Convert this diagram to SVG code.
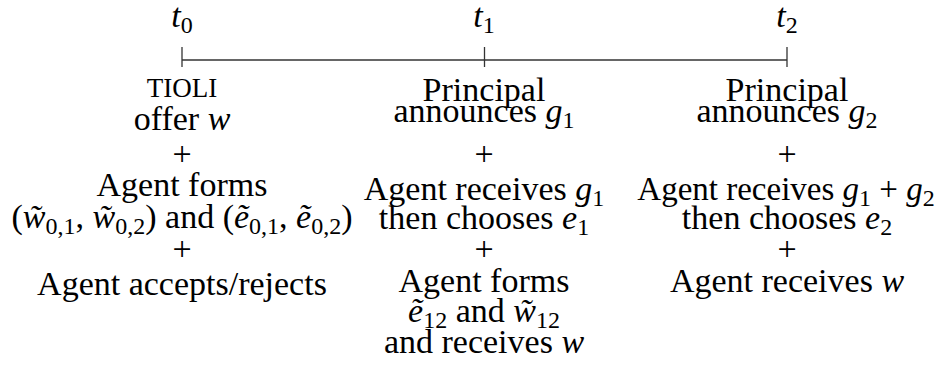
<svg xmlns="http://www.w3.org/2000/svg" width="936" height="365" viewBox="0 0 936 365">
<style>
.t { font-family: "Liberation Serif", "DejaVu Serif", serif; font-size: 34px; fill: #000; text-anchor: middle; }
.m { font-style: italic; }
.sub { font-size: 24px; font-style: normal; }
.sc { font-size: 27px; }
.nar { font-size: 33px; }
.tl { stroke: #333; stroke-width: 1.3; fill: none; }
</style>
<rect width="936" height="365" fill="#fff"/>
<g id="connectors">
  <line class="tl" x1="182" y1="60" x2="787" y2="60"/>
  <line class="tl" x1="182" y1="47" x2="182" y2="67"/>
  <line class="tl" x1="484.5" y1="47" x2="484.5" y2="67"/>
  <line class="tl" x1="787" y1="47" x2="787" y2="67"/>
</g>
<g id="t0">
  <text class="t" x="182" y="27"><tspan class="m">t</tspan><tspan class="sub" dy="6">0</tspan></text>
  <text class="t sc" x="182" y="97">TIOLI</text>
  <text class="t" x="182" y="130">offer <tspan class="m">w</tspan></text>
  <text class="t" x="182" y="165">+</text>
  <text class="t" x="182" y="196">Agent forms</text>
  <text class="t" x="182" y="228">(<tspan class="m">w̃</tspan><tspan class="sub" dy="6">0,1</tspan><tspan dy="-6">, </tspan><tspan class="m">w̃</tspan><tspan class="sub" dy="6">0,2</tspan><tspan dy="-6">) and (</tspan><tspan class="m">ẽ</tspan><tspan class="sub" dy="6">0,1</tspan><tspan dy="-6">, </tspan><tspan class="m">ẽ</tspan><tspan class="sub" dy="6">0,2</tspan><tspan dy="-6">)</tspan></text>
  <text class="t" x="182" y="260">+</text>
  <text class="t" x="182" y="295">Agent accepts/rejects</text>
</g>
<g id="t1">
  <text class="t" x="484" y="27"><tspan class="m">t</tspan><tspan class="sub" dy="6">1</tspan></text>
  <text class="t" x="484" y="101">Principal</text>
  <text class="t" x="484" y="122">announces <tspan class="m">g</tspan><tspan class="sub" dy="6">1</tspan></text>
  <text class="t" x="484" y="165">+</text>
  <text class="t" x="484" y="200">Agent receives <tspan class="m">g</tspan><tspan class="sub" dy="6">1</tspan></text>
  <text class="t" x="484" y="229">then chooses <tspan class="m">e</tspan><tspan class="sub" dy="6">1</tspan></text>
  <text class="t" x="484" y="260">+</text>
  <text class="t" x="484" y="292">Agent forms</text>
  <text class="t" x="484" y="322"><tspan class="m">ẽ</tspan><tspan class="sub" dy="6">12</tspan><tspan dy="-6"> and </tspan><tspan class="m">w̃</tspan><tspan class="sub" dy="6">12</tspan></text>
  <text class="t" x="484" y="353">and receives <tspan class="m">w</tspan></text>
</g>
<g id="t2">
  <text class="t" x="787" y="27"><tspan class="m">t</tspan><tspan class="sub" dy="6">2</tspan></text>
  <text class="t" x="787" y="101">Principal</text>
  <text class="t" x="787" y="122">announces <tspan class="m">g</tspan><tspan class="sub" dy="6">2</tspan></text>
  <text class="t" x="787" y="165">+</text>
  <text class="t nar" x="786" y="200">Agent receives <tspan class="m">g</tspan><tspan class="sub" dy="6">1</tspan><tspan dy="-6"> + </tspan><tspan class="m">g</tspan><tspan class="sub" dy="6">2</tspan></text>
  <text class="t" x="787" y="229">then chooses <tspan class="m">e</tspan><tspan class="sub" dy="6">2</tspan></text>
  <text class="t" x="787" y="260">+</text>
  <text class="t" x="787" y="292">Agent receives <tspan class="m">w</tspan></text>
</g>
</svg>
